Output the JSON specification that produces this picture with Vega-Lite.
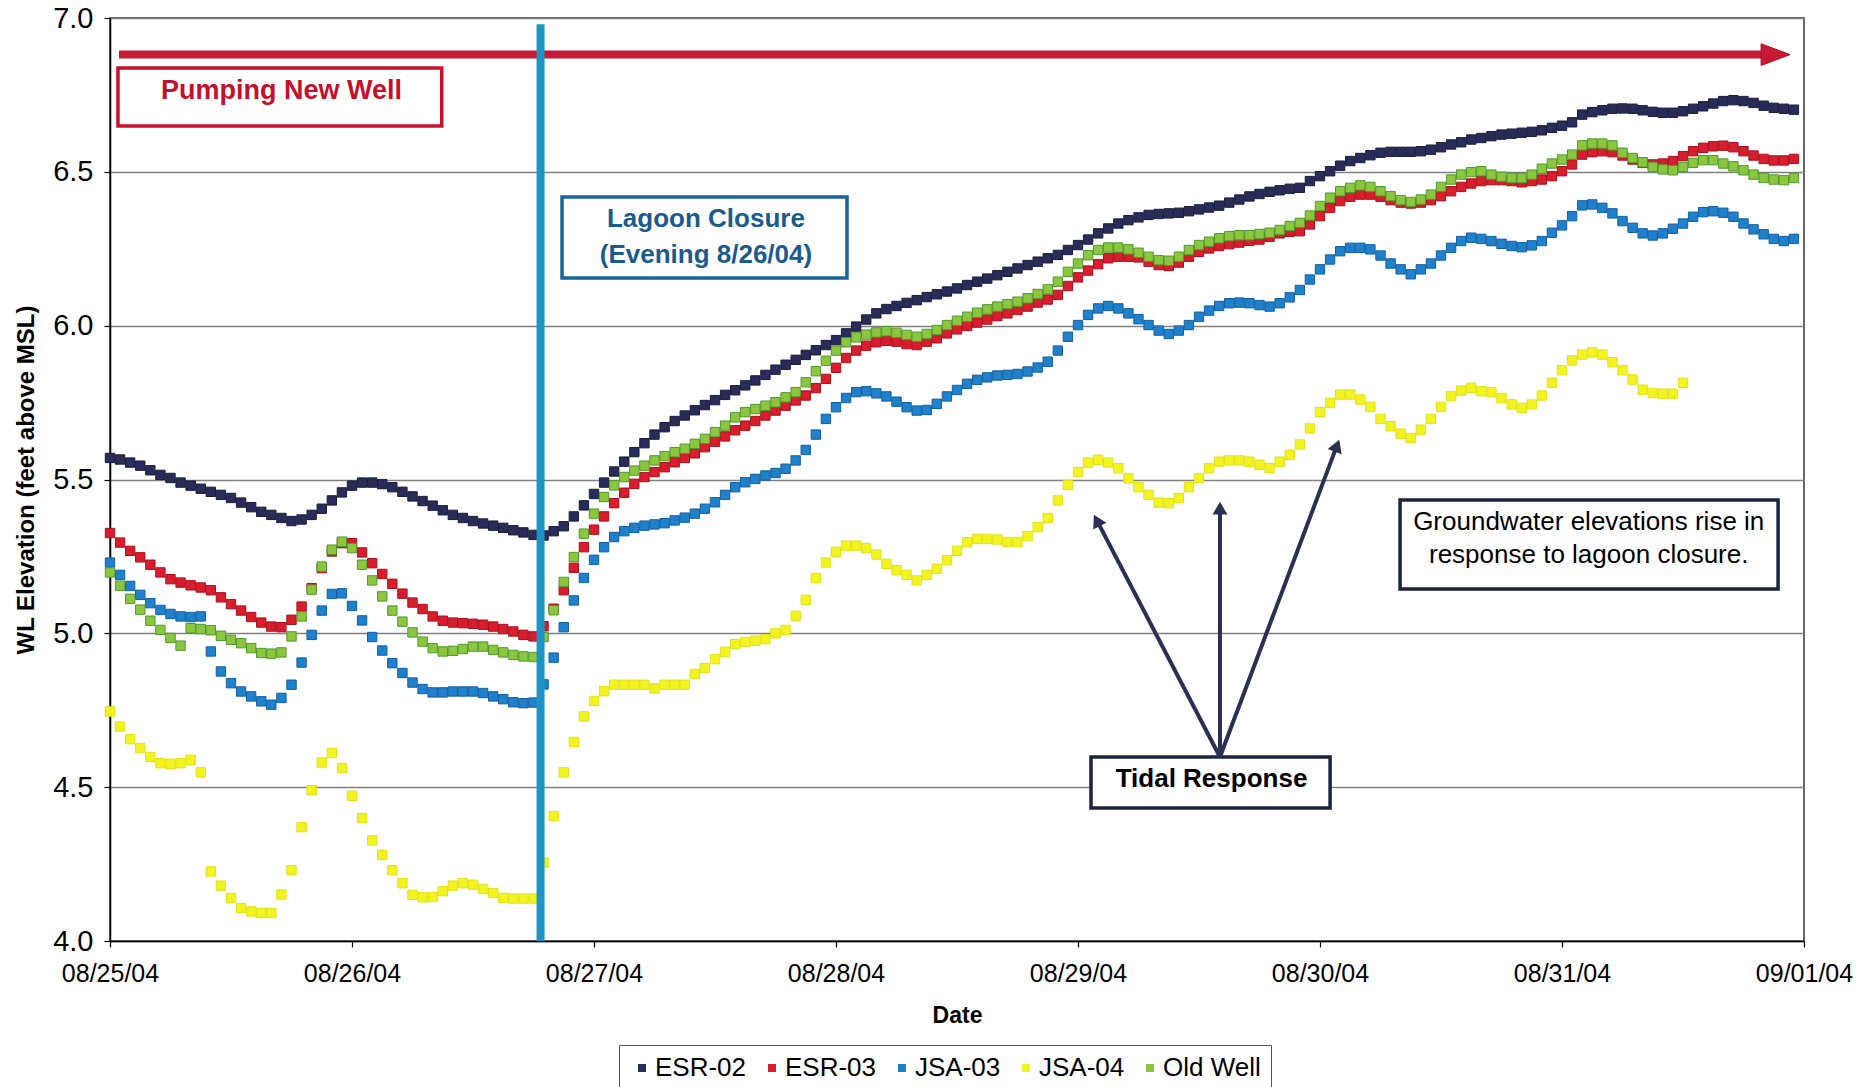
{
"$schema": "https://vega.github.io/schema/vega-lite/v6.json",
"width": 1694, "height": 923,
"autosize": {"type": "none"},
"padding": {"left": 110, "top": 18, "right": 67, "bottom": 146},
"background": "white",
"config": {
 "font": "Liberation Sans",
 "view": {"stroke": "#333333", "strokeWidth": 1.5},
 "axis": {"labelFont": "Liberation Sans", "titleFont": "Liberation Sans", "labelColor": "#000000", "titleColor": "#000000", "domainColor": "#000000", "tickColor": "#000000", "domainWidth": 1.5, "tickWidth": 1.2, "tickSize": 6}
},
"datasets": {"wl": [
{"h":0,"ESR-02":5.57,"ESR-03":5.326,"JSA-03":5.23,"JSA-04":4.746,"Old Well":5.198},
{"h":1,"ESR-02":5.565,"ESR-03":5.295,"JSA-03":5.19,"JSA-04":4.697,"Old Well":5.155},
{"h":2,"ESR-02":5.555,"ESR-03":5.268,"JSA-03":5.154,"JSA-04":4.656,"Old Well":5.112},
{"h":3,"ESR-02":5.545,"ESR-03":5.247,"JSA-03":5.125,"JSA-04":4.627,"Old Well":5.077},
{"h":4,"ESR-02":5.53,"ESR-03":5.223,"JSA-03":5.098,"JSA-04":4.598,"Old Well":5.041},
{"h":5,"ESR-02":5.515,"ESR-03":5.198,"JSA-03":5.076,"JSA-04":4.578,"Old Well":5.011},
{"h":6,"ESR-02":5.505,"ESR-03":5.176,"JSA-03":5.063,"JSA-04":4.576,"Old Well":4.985},
{"h":7,"ESR-02":5.49,"ESR-03":5.165,"JSA-03":5.055,"JSA-04":4.578,"Old Well":4.96},
{"h":8,"ESR-02":5.48,"ESR-03":5.156,"JSA-03":5.053,"JSA-04":4.589,"Old Well":5.017},
{"h":9,"ESR-02":5.47,"ESR-03":5.149,"JSA-03":5.055,"JSA-04":4.548,"Old Well":5.014},
{"h":10,"ESR-02":5.46,"ESR-03":5.14,"JSA-03":4.941,"JSA-04":4.226,"Old Well":5.01},
{"h":11,"ESR-02":5.45,"ESR-03":5.117,"JSA-03":4.876,"JSA-04":4.18,"Old Well":4.992},
{"h":12,"ESR-02":5.44,"ESR-03":5.095,"JSA-03":4.838,"JSA-04":4.14,"Old Well":4.979},
{"h":13,"ESR-02":5.425,"ESR-03":5.074,"JSA-03":4.811,"JSA-04":4.107,"Old Well":4.968},
{"h":14,"ESR-02":5.41,"ESR-03":5.053,"JSA-03":4.795,"JSA-04":4.096,"Old Well":4.952},
{"h":15,"ESR-02":5.395,"ESR-03":5.035,"JSA-03":4.779,"JSA-04":4.091,"Old Well":4.936},
{"h":16,"ESR-02":5.385,"ESR-03":5.022,"JSA-03":4.768,"JSA-04":4.091,"Old Well":4.934},
{"h":17,"ESR-02":5.375,"ESR-03":5.02,"JSA-03":4.79,"JSA-04":4.151,"Old Well":4.938},
{"h":18,"ESR-02":5.365,"ESR-03":5.044,"JSA-03":4.833,"JSA-04":4.23,"Old Well":4.99},
{"h":19,"ESR-02":5.37,"ESR-03":5.087,"JSA-03":4.905,"JSA-04":4.37,"Old Well":5.055},
{"h":20,"ESR-02":5.385,"ESR-03":5.147,"JSA-03":4.995,"JSA-04":4.49,"Old Well":5.142},
{"h":21,"ESR-02":5.405,"ESR-03":5.212,"JSA-03":5.074,"JSA-04":4.58,"Old Well":5.217},
{"h":22,"ESR-02":5.432,"ESR-03":5.266,"JSA-03":5.128,"JSA-04":4.611,"Old Well":5.272},
{"h":23,"ESR-02":5.458,"ESR-03":5.293,"JSA-03":5.13,"JSA-04":4.562,"Old Well":5.298},
{"h":24,"ESR-02":5.48,"ESR-03":5.293,"JSA-03":5.089,"JSA-04":4.472,"Old Well":5.277},
{"h":25,"ESR-02":5.49,"ESR-03":5.263,"JSA-03":5.042,"JSA-04":4.4,"Old Well":5.223},
{"h":26,"ESR-02":5.49,"ESR-03":5.228,"JSA-03":4.988,"JSA-04":4.327,"Old Well":5.172},
{"h":27,"ESR-02":5.485,"ESR-03":5.193,"JSA-03":4.944,"JSA-04":4.28,"Old Well":5.12},
{"h":28,"ESR-02":5.475,"ESR-03":5.161,"JSA-03":4.903,"JSA-04":4.23,"Old Well":5.074},
{"h":29,"ESR-02":5.46,"ESR-03":5.129,"JSA-03":4.871,"JSA-04":4.188,"Old Well":5.038},
{"h":30,"ESR-02":5.445,"ESR-03":5.1,"JSA-03":4.84,"JSA-04":4.15,"Old Well":5.003},
{"h":31,"ESR-02":5.43,"ESR-03":5.079,"JSA-03":4.819,"JSA-04":4.142,"Old Well":4.973},
{"h":32,"ESR-02":5.415,"ESR-03":5.055,"JSA-03":4.808,"JSA-04":4.143,"Old Well":4.952},
{"h":33,"ESR-02":5.4,"ESR-03":5.041,"JSA-03":4.808,"JSA-04":4.162,"Old Well":4.941},
{"h":34,"ESR-02":5.385,"ESR-03":5.035,"JSA-03":4.811,"JSA-04":4.18,"Old Well":4.943},
{"h":35,"ESR-02":5.375,"ESR-03":5.033,"JSA-03":4.811,"JSA-04":4.188,"Old Well":4.949},
{"h":36,"ESR-02":5.365,"ESR-03":5.031,"JSA-03":4.811,"JSA-04":4.183,"Old Well":4.957},
{"h":37,"ESR-02":5.357,"ESR-03":5.028,"JSA-03":4.806,"JSA-04":4.169,"Old Well":4.957},
{"h":38,"ESR-02":5.35,"ESR-03":5.022,"JSA-03":4.795,"JSA-04":4.156,"Old Well":4.946},
{"h":39,"ESR-02":5.343,"ESR-03":5.014,"JSA-03":4.786,"JSA-04":4.14,"Old Well":4.938},
{"h":40,"ESR-02":5.335,"ESR-03":5.006,"JSA-03":4.776,"JSA-04":4.138,"Old Well":4.93},
{"h":41,"ESR-02":5.328,"ESR-03":4.995,"JSA-03":4.773,"JSA-04":4.138,"Old Well":4.925},
{"h":42,"ESR-02":5.32,"ESR-03":4.99,"JSA-03":4.775,"JSA-04":4.138,"Old Well":4.923},
{"h":43,"ESR-02":5.318,"ESR-03":5.023,"JSA-03":4.834,"JSA-04":4.255,"Old Well":4.988},
{"h":44,"ESR-02":5.332,"ESR-03":5.08,"JSA-03":4.921,"JSA-04":4.406,"Old Well":5.075},
{"h":45,"ESR-02":5.348,"ESR-03":5.14,"JSA-03":5.02,"JSA-04":4.548,"Old Well":5.167},
{"h":46,"ESR-02":5.38,"ESR-03":5.213,"JSA-03":5.107,"JSA-04":4.647,"Old Well":5.248},
{"h":47,"ESR-02":5.416,"ESR-03":5.28,"JSA-03":5.18,"JSA-04":4.73,"Old Well":5.324},
{"h":48,"ESR-02":5.453,"ESR-03":5.337,"JSA-03":5.239,"JSA-04":4.78,"Old Well":5.389},
{"h":49,"ESR-02":5.49,"ESR-03":5.38,"JSA-03":5.28,"JSA-04":4.812,"Old Well":5.443},
{"h":50,"ESR-02":5.526,"ESR-03":5.423,"JSA-03":5.313,"JSA-04":4.833,"Old Well":5.481},
{"h":51,"ESR-02":5.558,"ESR-03":5.457,"JSA-03":5.332,"JSA-04":4.833,"Old Well":5.508},
{"h":52,"ESR-02":5.589,"ESR-03":5.486,"JSA-03":5.343,"JSA-04":4.833,"Old Well":5.529},
{"h":53,"ESR-02":5.618,"ESR-03":5.508,"JSA-03":5.35,"JSA-04":4.833,"Old Well":5.545},
{"h":54,"ESR-02":5.646,"ESR-03":5.524,"JSA-03":5.354,"JSA-04":4.821,"Old Well":5.562},
{"h":55,"ESR-02":5.67,"ESR-03":5.54,"JSA-03":5.358,"JSA-04":4.833,"Old Well":5.576},
{"h":56,"ESR-02":5.69,"ESR-03":5.556,"JSA-03":5.367,"JSA-04":4.833,"Old Well":5.589},
{"h":57,"ESR-02":5.708,"ESR-03":5.57,"JSA-03":5.376,"JSA-04":4.833,"Old Well":5.6},
{"h":58,"ESR-02":5.725,"ESR-03":5.585,"JSA-03":5.389,"JSA-04":4.868,"Old Well":5.616},
{"h":59,"ESR-02":5.742,"ESR-03":5.605,"JSA-03":5.405,"JSA-04":4.887,"Old Well":5.632},
{"h":60,"ESR-02":5.758,"ESR-03":5.623,"JSA-03":5.426,"JSA-04":4.916,"Old Well":5.654},
{"h":61,"ESR-02":5.775,"ESR-03":5.64,"JSA-03":5.45,"JSA-04":4.94,"Old Well":5.675},
{"h":62,"ESR-02":5.79,"ESR-03":5.66,"JSA-03":5.475,"JSA-04":4.965,"Old Well":5.702},
{"h":63,"ESR-02":5.806,"ESR-03":5.675,"JSA-03":5.491,"JSA-04":4.972,"Old Well":5.719},
{"h":64,"ESR-02":5.822,"ESR-03":5.69,"JSA-03":5.502,"JSA-04":4.976,"Old Well":5.729},
{"h":65,"ESR-02":5.84,"ESR-03":5.708,"JSA-03":5.513,"JSA-04":4.981,"Old Well":5.74},
{"h":66,"ESR-02":5.857,"ESR-03":5.724,"JSA-03":5.521,"JSA-04":5.0,"Old Well":5.751},
{"h":67,"ESR-02":5.873,"ESR-03":5.74,"JSA-03":5.535,"JSA-04":5.011,"Old Well":5.767},
{"h":68,"ESR-02":5.889,"ESR-03":5.757,"JSA-03":5.562,"JSA-04":5.057,"Old Well":5.784},
{"h":69,"ESR-02":5.905,"ESR-03":5.773,"JSA-03":5.596,"JSA-04":5.109,"Old Well":5.816},
{"h":70,"ESR-02":5.92,"ESR-03":5.797,"JSA-03":5.646,"JSA-04":5.18,"Old Well":5.852},
{"h":71,"ESR-02":5.937,"ESR-03":5.827,"JSA-03":5.697,"JSA-04":5.23,"Old Well":5.886},
{"h":72,"ESR-02":5.953,"ESR-03":5.863,"JSA-03":5.735,"JSA-04":5.265,"Old Well":5.919},
{"h":73,"ESR-02":5.975,"ESR-03":5.895,"JSA-03":5.765,"JSA-04":5.285,"Old Well":5.946},
{"h":74,"ESR-02":5.997,"ESR-03":5.919,"JSA-03":5.784,"JSA-04":5.285,"Old Well":5.962},
{"h":75,"ESR-02":6.02,"ESR-03":5.935,"JSA-03":5.787,"JSA-04":5.277,"Old Well":5.971},
{"h":76,"ESR-02":6.04,"ESR-03":5.946,"JSA-03":5.78,"JSA-04":5.256,"Old Well":5.978},
{"h":77,"ESR-02":6.054,"ESR-03":5.951,"JSA-03":5.77,"JSA-04":5.226,"Old Well":5.982},
{"h":78,"ESR-02":6.064,"ESR-03":5.948,"JSA-03":5.753,"JSA-04":5.205,"Old Well":5.977},
{"h":79,"ESR-02":6.074,"ESR-03":5.94,"JSA-03":5.735,"JSA-04":5.19,"Old Well":5.97},
{"h":80,"ESR-02":6.083,"ESR-03":5.937,"JSA-03":5.724,"JSA-04":5.172,"Old Well":5.964},
{"h":81,"ESR-02":6.093,"ESR-03":5.948,"JSA-03":5.726,"JSA-04":5.19,"Old Well":5.973},
{"h":82,"ESR-02":6.102,"ESR-03":5.959,"JSA-03":5.746,"JSA-04":5.21,"Old Well":5.986},
{"h":83,"ESR-02":6.111,"ESR-03":5.975,"JSA-03":5.77,"JSA-04":5.238,"Old Well":6.002},
{"h":84,"ESR-02":6.121,"ESR-03":5.988,"JSA-03":5.791,"JSA-04":5.268,"Old Well":6.016},
{"h":85,"ESR-02":6.132,"ESR-03":5.999,"JSA-03":5.811,"JSA-04":5.296,"Old Well":6.029},
{"h":86,"ESR-02":6.143,"ESR-03":6.01,"JSA-03":5.824,"JSA-04":5.307,"Old Well":6.042},
{"h":87,"ESR-02":6.153,"ESR-03":6.02,"JSA-03":5.832,"JSA-04":5.307,"Old Well":6.053},
{"h":88,"ESR-02":6.164,"ESR-03":6.031,"JSA-03":5.838,"JSA-04":5.305,"Old Well":6.062},
{"h":89,"ESR-02":6.175,"ESR-03":6.04,"JSA-03":5.84,"JSA-04":5.297,"Old Well":6.07},
{"h":90,"ESR-02":6.186,"ESR-03":6.051,"JSA-03":5.843,"JSA-04":5.297,"Old Well":6.078},
{"h":91,"ESR-02":6.197,"ESR-03":6.062,"JSA-03":5.851,"JSA-04":5.316,"Old Well":6.089},
{"h":92,"ESR-02":6.208,"ESR-03":6.075,"JSA-03":5.864,"JSA-04":5.345,"Old Well":6.103},
{"h":93,"ESR-02":6.219,"ESR-03":6.085,"JSA-03":5.883,"JSA-04":5.375,"Old Well":6.118},
{"h":94,"ESR-02":6.23,"ESR-03":6.1,"JSA-03":5.919,"JSA-04":5.432,"Old Well":6.143},
{"h":95,"ESR-02":6.246,"ESR-03":6.129,"JSA-03":5.964,"JSA-04":5.482,"Old Well":6.175},
{"h":96,"ESR-02":6.262,"ESR-03":6.157,"JSA-03":6.002,"JSA-04":5.524,"Old Well":6.202},
{"h":97,"ESR-02":6.28,"ESR-03":6.179,"JSA-03":6.035,"JSA-04":5.555,"Old Well":6.229},
{"h":98,"ESR-02":6.3,"ESR-03":6.2,"JSA-03":6.056,"JSA-04":5.564,"Old Well":6.246},
{"h":99,"ESR-02":6.316,"ESR-03":6.219,"JSA-03":6.064,"JSA-04":5.555,"Old Well":6.254},
{"h":100,"ESR-02":6.332,"ESR-03":6.224,"JSA-03":6.056,"JSA-04":5.537,"Old Well":6.254},
{"h":101,"ESR-02":6.343,"ESR-03":6.224,"JSA-03":6.04,"JSA-04":5.504,"Old Well":6.248},
{"h":102,"ESR-02":6.352,"ESR-03":6.222,"JSA-03":6.021,"JSA-04":5.475,"Old Well":6.237},
{"h":103,"ESR-02":6.36,"ESR-03":6.208,"JSA-03":6.002,"JSA-04":5.45,"Old Well":6.224},
{"h":104,"ESR-02":6.363,"ESR-03":6.197,"JSA-03":5.984,"JSA-04":5.425,"Old Well":6.213},
{"h":105,"ESR-02":6.365,"ESR-03":6.194,"JSA-03":5.973,"JSA-04":5.423,"Old Well":6.211},
{"h":106,"ESR-02":6.367,"ESR-03":6.205,"JSA-03":5.984,"JSA-04":5.44,"Old Well":6.224},
{"h":107,"ESR-02":6.372,"ESR-03":6.224,"JSA-03":6.002,"JSA-04":5.475,"Old Well":6.246},
{"h":108,"ESR-02":6.378,"ESR-03":6.24,"JSA-03":6.029,"JSA-04":5.504,"Old Well":6.262},
{"h":109,"ESR-02":6.384,"ESR-03":6.251,"JSA-03":6.049,"JSA-04":5.537,"Old Well":6.273},
{"h":110,"ESR-02":6.39,"ESR-03":6.259,"JSA-03":6.064,"JSA-04":5.558,"Old Well":6.284},
{"h":111,"ESR-02":6.4,"ESR-03":6.265,"JSA-03":6.073,"JSA-04":5.562,"Old Well":6.291},
{"h":112,"ESR-02":6.41,"ESR-03":6.27,"JSA-03":6.075,"JSA-04":5.562,"Old Well":6.294},
{"h":113,"ESR-02":6.42,"ESR-03":6.276,"JSA-03":6.073,"JSA-04":5.558,"Old Well":6.294},
{"h":114,"ESR-02":6.428,"ESR-03":6.28,"JSA-03":6.067,"JSA-04":5.548,"Old Well":6.298},
{"h":115,"ESR-02":6.435,"ESR-03":6.289,"JSA-03":6.062,"JSA-04":5.537,"Old Well":6.302},
{"h":116,"ESR-02":6.44,"ESR-03":6.3,"JSA-03":6.073,"JSA-04":5.558,"Old Well":6.311},
{"h":117,"ESR-02":6.445,"ESR-03":6.305,"JSA-03":6.092,"JSA-04":5.58,"Old Well":6.324},
{"h":118,"ESR-02":6.448,"ESR-03":6.307,"JSA-03":6.116,"JSA-04":5.614,"Old Well":6.334},
{"h":119,"ESR-02":6.47,"ESR-03":6.329,"JSA-03":6.15,"JSA-04":5.666,"Old Well":6.358},
{"h":120,"ESR-02":6.486,"ESR-03":6.356,"JSA-03":6.183,"JSA-04":5.719,"Old Well":6.389},
{"h":121,"ESR-02":6.502,"ESR-03":6.383,"JSA-03":6.215,"JSA-04":5.749,"Old Well":6.416},
{"h":122,"ESR-02":6.52,"ESR-03":6.405,"JSA-03":6.242,"JSA-04":5.776,"Old Well":6.437},
{"h":123,"ESR-02":6.535,"ESR-03":6.419,"JSA-03":6.253,"JSA-04":5.776,"Old Well":6.448},
{"h":124,"ESR-02":6.545,"ESR-03":6.426,"JSA-03":6.253,"JSA-04":5.76,"Old Well":6.456},
{"h":125,"ESR-02":6.554,"ESR-03":6.426,"JSA-03":6.248,"JSA-04":5.736,"Old Well":6.451},
{"h":126,"ESR-02":6.562,"ESR-03":6.419,"JSA-03":6.228,"JSA-04":5.697,"Old Well":6.437},
{"h":127,"ESR-02":6.565,"ESR-03":6.408,"JSA-03":6.202,"JSA-04":5.673,"Old Well":6.421},
{"h":128,"ESR-02":6.565,"ESR-03":6.4,"JSA-03":6.183,"JSA-04":5.649,"Old Well":6.408},
{"h":129,"ESR-02":6.565,"ESR-03":6.397,"JSA-03":6.167,"JSA-04":5.635,"Old Well":6.402},
{"h":130,"ESR-02":6.567,"ESR-03":6.4,"JSA-03":6.183,"JSA-04":5.662,"Old Well":6.41},
{"h":131,"ESR-02":6.572,"ESR-03":6.408,"JSA-03":6.202,"JSA-04":5.697,"Old Well":6.426},
{"h":132,"ESR-02":6.58,"ESR-03":6.421,"JSA-03":6.228,"JSA-04":5.736,"Old Well":6.451},
{"h":133,"ESR-02":6.589,"ESR-03":6.437,"JSA-03":6.253,"JSA-04":5.771,"Old Well":6.475},
{"h":134,"ESR-02":6.596,"ESR-03":6.451,"JSA-03":6.275,"JSA-04":5.789,"Old Well":6.491},
{"h":135,"ESR-02":6.605,"ESR-03":6.462,"JSA-03":6.286,"JSA-04":5.798,"Old Well":6.499},
{"h":136,"ESR-02":6.61,"ESR-03":6.47,"JSA-03":6.282,"JSA-04":5.787,"Old Well":6.502},
{"h":137,"ESR-02":6.616,"ESR-03":6.473,"JSA-03":6.275,"JSA-04":5.784,"Old Well":6.491},
{"h":138,"ESR-02":6.621,"ESR-03":6.473,"JSA-03":6.266,"JSA-04":5.765,"Old Well":6.484},
{"h":139,"ESR-02":6.624,"ESR-03":6.47,"JSA-03":6.259,"JSA-04":5.744,"Old Well":6.48},
{"h":140,"ESR-02":6.627,"ESR-03":6.466,"JSA-03":6.255,"JSA-04":5.733,"Old Well":6.48},
{"h":141,"ESR-02":6.63,"ESR-03":6.47,"JSA-03":6.261,"JSA-04":5.744,"Old Well":6.491},
{"h":142,"ESR-02":6.635,"ESR-03":6.475,"JSA-03":6.275,"JSA-04":5.773,"Old Well":6.51},
{"h":143,"ESR-02":6.643,"ESR-03":6.486,"JSA-03":6.302,"JSA-04":5.814,"Old Well":6.527},
{"h":144,"ESR-02":6.65,"ESR-03":6.502,"JSA-03":6.326,"JSA-04":5.855,"Old Well":6.54},
{"h":145,"ESR-02":6.661,"ESR-03":6.524,"JSA-03":6.356,"JSA-04":5.887,"Old Well":6.556},
{"h":146,"ESR-02":6.686,"ESR-03":6.556,"JSA-03":6.391,"JSA-04":5.906,"Old Well":6.586},
{"h":147,"ESR-02":6.694,"ESR-03":6.564,"JSA-03":6.394,"JSA-04":5.913,"Old Well":6.592},
{"h":148,"ESR-02":6.7,"ESR-03":6.567,"JSA-03":6.383,"JSA-04":5.906,"Old Well":6.592},
{"h":149,"ESR-02":6.705,"ESR-03":6.564,"JSA-03":6.365,"JSA-04":5.881,"Old Well":6.586},
{"h":150,"ESR-02":6.706,"ESR-03":6.553,"JSA-03":6.34,"JSA-04":5.855,"Old Well":6.562},
{"h":151,"ESR-02":6.705,"ESR-03":6.54,"JSA-03":6.318,"JSA-04":5.825,"Old Well":6.545},
{"h":152,"ESR-02":6.7,"ESR-03":6.529,"JSA-03":6.3,"JSA-04":5.792,"Old Well":6.531},
{"h":153,"ESR-02":6.695,"ESR-03":6.524,"JSA-03":6.293,"JSA-04":5.781,"Old Well":6.516},
{"h":154,"ESR-02":6.692,"ESR-03":6.527,"JSA-03":6.3,"JSA-04":5.779,"Old Well":6.508},
{"h":155,"ESR-02":6.692,"ESR-03":6.535,"JSA-03":6.315,"JSA-04":5.779,"Old Well":6.505},
{"h":156,"ESR-02":6.697,"ESR-03":6.551,"JSA-03":6.332,"JSA-04":5.814,"Old Well":6.516},
{"h":157,"ESR-02":6.705,"ESR-03":6.567,"JSA-03":6.354,"Old Well":6.529},
{"h":158,"ESR-02":6.713,"ESR-03":6.578,"JSA-03":6.369,"Old Well":6.538},
{"h":159,"ESR-02":6.722,"ESR-03":6.583,"JSA-03":6.372,"Old Well":6.538},
{"h":160,"ESR-02":6.73,"ESR-03":6.585,"JSA-03":6.367,"Old Well":6.527},
{"h":161,"ESR-02":6.733,"ESR-03":6.58,"JSA-03":6.354,"Old Well":6.518},
{"h":162,"ESR-02":6.73,"ESR-03":6.567,"JSA-03":6.332,"Old Well":6.505},
{"h":163,"ESR-02":6.724,"ESR-03":6.553,"JSA-03":6.313,"Old Well":6.491},
{"h":164,"ESR-02":6.715,"ESR-03":6.542,"JSA-03":6.297,"Old Well":6.48},
{"h":165,"ESR-02":6.708,"ESR-03":6.537,"JSA-03":6.282,"Old Well":6.475},
{"h":166,"ESR-02":6.705,"ESR-03":6.537,"JSA-03":6.275,"Old Well":6.473},
{"h":167,"ESR-02":6.702,"ESR-03":6.542,"JSA-03":6.282,"Old Well":6.48}
]},
"layer": [
 {
  "data": {"name": "wl"},
  "transform": [{"fold": ["ESR-02", "ESR-03", "JSA-03", "JSA-04", "Old Well"], "as": ["series", "v"]}],
  "mark": {"type": "point", "shape": "square", "filled": true, "size": 88, "strokeWidth": 1, "opacity": 1},
  "encoding": {
   "x": {"field": "h", "type": "quantitative", "scale": {"domain": [0, 168], "nice": false, "zero": false},
    "axis": {"title": "Date", "values": [0, 24, 48, 72, 96, 120, 144, 168], "grid": false,
     "labelExpr": "['08/25/04','08/26/04','08/27/04','08/28/04','08/29/04','08/30/04','08/31/04','09/01/04'][round(datum.value/24)]",
     "labelFontSize": 25, "labelPadding": 14, "labelFlush": false, "labelOverlap": false,
     "titleFontSize": 23, "titleFontWeight": "bold", "titleY": 74, "titleBaseline": "middle"}},
   "y": {"field": "v", "type": "quantitative", "scale": {"domain": [4, 7], "nice": false, "zero": false},
    "axis": {"title": "WL Elevation (feet above MSL)", "values": [4, 4.5, 5, 5.5, 6, 6.5, 7], "format": ".1f",
     "grid": true, "gridColor": "#808080", "gridWidth": 1.3, "labelFontSize": 29, "labelPadding": 11,
     "labelFlush": false, "labelOverlap": false,
     "titleFontSize": 24, "titleFontWeight": "bold", "titleX": -84, "titleY": 461.5, "titleAngle": -90,
     "titleAlign": "center", "titleBaseline": "middle"}},
   "fill": {"field": "series", "type": "nominal",
    "scale": {"domain": ["ESR-02", "ESR-03", "JSA-03", "JSA-04", "Old Well"], "range": ["#282c58", "#d81d2d", "#1f80cc", "#f3f321", "#8cc63f"]},
    "legend": {"orient": "none", "legendX": 509, "legendY": 1027, "direction": "horizontal", "columns": 5, "title": null,
     "symbolType": "square", "symbolSize": 64, "symbolStrokeWidth": 0, "labelFontSize": 26, "labelFont": "Liberation Sans",
     "labelColor": "#000000", "labelOffset": 0, "columnPadding": 12, "padding": 10,
     "strokeColor": "#555555", "fillColor": "#ffffff"}},
   "stroke": {"field": "series", "type": "nominal",
    "scale": {"domain": ["ESR-02", "ESR-03", "JSA-03", "JSA-04", "Old Well"], "range": ["#1a1c3e", "#a8101f", "#145f9f", "#e2e21a", "#4d9a2c"]},
    "legend": null},
   "order": {"field": "series", "sort": "ascending"}
  }
 },
 {
  "data": {"values": [{"h": 0.79, "h2": 32.9, "v": 6.8375, "v2": 6.649}]},
  "mark": {"type": "rect", "fill": "#ffffff", "stroke": "#c8102e", "strokeWidth": 3.5},
  "encoding": {"x": {"field": "h", "type": "quantitative"}, "x2": {"field": "h2"}, "y": {"field": "v", "type": "quantitative"}, "y2": {"field": "v2"}}
 },
 {
  "data": {"values": [{"h": 44.83, "h2": 73.09, "v": 6.4182, "v2": 6.1549}]},
  "mark": {"type": "rect", "fill": "#ffffff", "stroke": "#1a6597", "strokeWidth": 3.5},
  "encoding": {"x": {"field": "h", "type": "quantitative"}, "x2": {"field": "h2"}, "y": {"field": "v", "type": "quantitative"}, "y2": {"field": "v2"}}
 },
 {
  "data": {"values": [{"h": 97.29, "h2": 121.0, "v": 4.598, "v2": 4.4323}]},
  "mark": {"type": "rect", "fill": "#ffffff", "stroke": "#1c2340", "strokeWidth": 3.5},
  "encoding": {"x": {"field": "h", "type": "quantitative"}, "x2": {"field": "h2"}, "y": {"field": "v", "type": "quantitative"}, "y2": {"field": "v2"}}
 },
 {
  "data": {"values": [{"h": 127.94, "h2": 165.43, "v": 5.4334, "v2": 5.1441}]},
  "mark": {"type": "rect", "fill": "#ffffff", "stroke": "#1c2340", "strokeWidth": 3.5},
  "encoding": {"x": {"field": "h", "type": "quantitative"}, "x2": {"field": "h2"}, "y": {"field": "v", "type": "quantitative"}, "y2": {"field": "v2"}}
 },
 {
  "data": {"values": [{"h": 0.89, "h2": 165.18, "v": 6.881}]},
  "mark": {"type": "rule", "stroke": "#c81a36", "strokeWidth": 8},
  "encoding": {"x": {"field": "h", "type": "quantitative"}, "x2": {"field": "h2"}, "y": {"field": "v", "type": "quantitative"}}
 },
 {
  "data": {"values": [{"h": 165.18, "v": 6.881}]},
  "mark": {"type": "point", "shape": "M1,0L-1,-0.75L-1,0.75Z", "filled": true, "size": 841, "fill": "#c81a36", "stroke": "#a8142c", "strokeWidth": 1, "opacity": 1},
  "encoding": {"x": {"field": "h", "type": "quantitative"}, "y": {"field": "v", "type": "quantitative"}}
 },
 {
  "data": {"values": [{"h": 42.7, "v": 6.98, "v2": 4.0}]},
  "mark": {"type": "rule", "stroke": "#1e94c4", "strokeWidth": 8},
  "encoding": {"x": {"field": "h", "type": "quantitative"}, "y": {"field": "v", "type": "quantitative"}, "y2": {"field": "v2"}}
 },
 {
  "data": {"values": [
   {"h": 110.08, "v": 4.598, "h2": 97.87, "v2": 5.367},
   {"h": 110.08, "v": 4.598, "h2": 110.08, "v2": 5.407},
   {"h": 110.08, "v": 4.598, "h2": 121.68, "v2": 5.61}]},
  "mark": {"type": "rule", "stroke": "#2a3052", "strokeWidth": 4},
  "encoding": {"x": {"field": "h", "type": "quantitative"}, "y": {"field": "v", "type": "quantitative"}, "x2": {"field": "h2"}, "y2": {"field": "v2"}}
 },
 {
  "data": {"values": [{"h": 97.87, "v": 5.367}]},
  "mark": {"type": "point", "shape": "triangle-up", "filled": true, "size": 220, "angle": 332.5, "fill": "#2a3052", "opacity": 1},
  "encoding": {"x": {"field": "h", "type": "quantitative"}, "y": {"field": "v", "type": "quantitative"}}
 },
 {
  "data": {"values": [{"h": 110.08, "v": 5.407}]},
  "mark": {"type": "point", "shape": "triangle-up", "filled": true, "size": 220, "angle": 0, "fill": "#2a3052", "opacity": 1},
  "encoding": {"x": {"field": "h", "type": "quantitative"}, "y": {"field": "v", "type": "quantitative"}}
 },
 {
  "data": {"values": [{"h": 121.68, "v": 5.61}]},
  "mark": {"type": "point", "shape": "triangle-up", "filled": true, "size": 220, "angle": 20.6, "fill": "#2a3052", "opacity": 1},
  "encoding": {"x": {"field": "h", "type": "quantitative"}, "y": {"field": "v", "type": "quantitative"}}
 },
 {
  "data": {"values": [{"h": 17.0, "v": 6.7627, "label": "Pumping New Well"}]},
  "mark": {"type": "text", "font": "Liberation Sans", "fontSize": 27, "fontWeight": "bold", "fill": "#c4102c", "align": "center", "baseline": "middle"},
  "encoding": {"x": {"field": "h", "type": "quantitative"}, "y": {"field": "v", "type": "quantitative"}, "text": {"field": "label"}}
 },
 {
  "data": {"values": [{"h": 59.1, "v": 6.3477, "label": "Lagoon Closure"}, {"h": 59.1, "v": 6.2313, "label": "(Evening 8/26/04)"}]},
  "mark": {"type": "text", "font": "Liberation Sans", "fontSize": 26, "fontWeight": "bold", "fill": "#1b5a8c", "align": "center", "baseline": "middle"},
  "encoding": {"x": {"field": "h", "type": "quantitative"}, "y": {"field": "v", "type": "quantitative"}, "text": {"field": "label"}}
 },
 {
  "data": {"values": [{"h": 109.24, "v": 4.5275, "label": "Tidal Response"}]},
  "mark": {"type": "text", "font": "Liberation Sans", "fontSize": 26, "fontWeight": "bold", "fill": "#000000", "align": "center", "baseline": "middle"},
  "encoding": {"x": {"field": "h", "type": "quantitative"}, "y": {"field": "v", "type": "quantitative"}, "text": {"field": "label"}}
 },
 {
  "data": {"values": [{"h": 146.65, "v": 5.3603, "label": "Groundwater elevations rise in"}, {"h": 146.65, "v": 5.254, "label": "response to lagoon closure."}]},
  "mark": {"type": "text", "font": "Liberation Sans", "fontSize": 26, "fontWeight": "normal", "fill": "#000000", "align": "center", "baseline": "middle"},
  "encoding": {"x": {"field": "h", "type": "quantitative"}, "y": {"field": "v", "type": "quantitative"}, "text": {"field": "label"}}
 }
]
}
